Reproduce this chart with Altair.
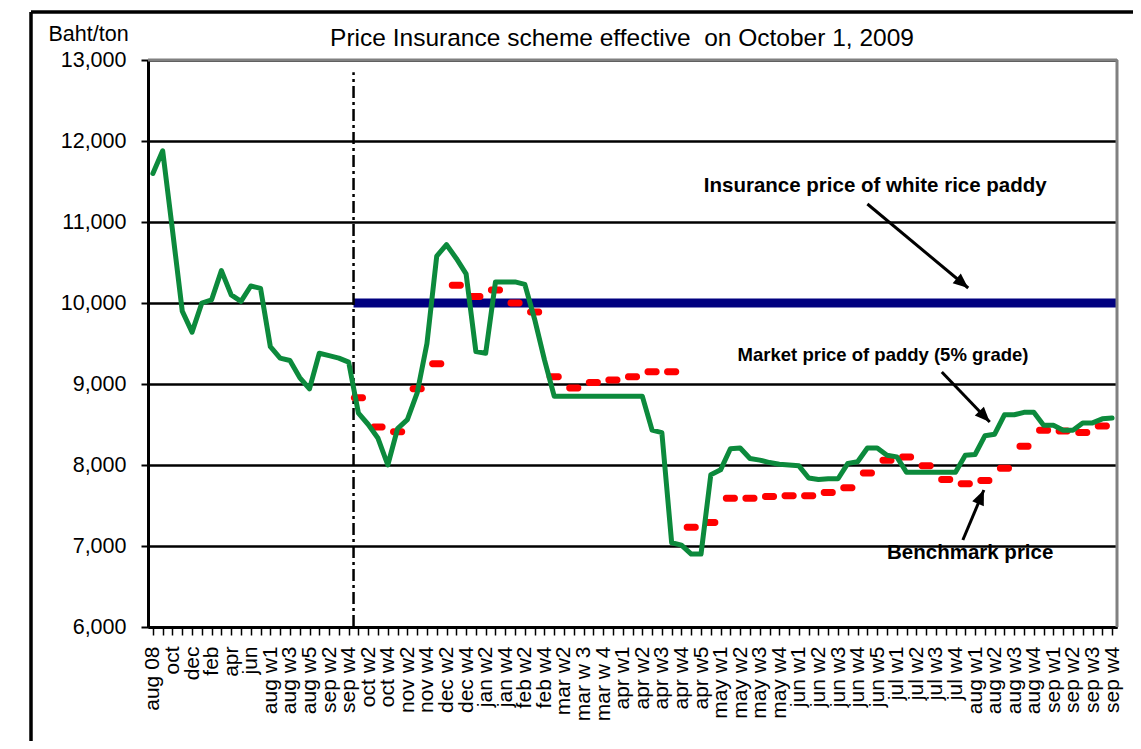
import json
import altair as alt
import pandas as pd

# ---------------- data ----------------
x_labels = [
    "aug 08", "oct", "dec", "feb", "apr", "jun", "aug w1", "aug w3", "aug w5",
    "sep w2", "sep w4", "oct w2", "oct w4", "nov w2", "nov w4", "dec w2", "dec w4",
    "jan w2", "jan w4", "feb w2", "feb w4", "mar w2", "mar w 3", "mar w 4",
    "apr w1", "apr w2", "apr w3", "apr w4", "apr w5", "may w1", "may w2", "may w3",
    "may w4", "jun w1", "jun w2", "jun w3", "jun w4", "jun w5", "jul w1", "jul w2",
    "jul w3", "jul w4", "aug w1", "aug w2", "aug w3", "aug w4", "sep w1", "sep w2",
    "sep w3", "sep w4",
]

market_price = [
    11600, 11880, 10900, 9900, 9640, 10000, 10040, 10400, 10100, 10020,
    10210, 10180, 9460, 9320, 9290, 9080, 8940, 9380, 9350, 9320,
    9270, 8640, 8500, 8330, 8000, 8450, 8560, 8890, 9500, 10580,
    10720, 10550, 10360, 9400, 9380, 10260, 10260, 10260, 10230, 9800,
    9300, 8850, 8850, 8850, 8850, 8850, 8850, 8850, 8850, 8850,
    8850, 8430, 8400, 7040, 7010, 6900, 6900, 7880, 7940, 8200,
    8210, 8080, 8060, 8030, 8010, 8000, 7990, 7840, 7820, 7830,
    7830, 8020, 8040, 8210, 8210, 8120, 8100, 7910, 7910, 7910,
    7910, 7910, 7910, 8120, 8130, 8360, 8380, 8620, 8620, 8650,
    8650, 8490, 8490, 8430, 8430, 8520, 8520, 8570, 8580,
]

benchmark_price = [
    8830, 8470, 8410, 8940, 9250, 10220, 10080, 10160, 10000, 9890,
    9090, 8950, 9020, 9050, 9090, 9150, 9150, 7230, 7290, 7590,
    7590, 7610, 7620, 7620, 7660, 7720, 7900, 8060, 8100, 7990,
    7820, 7770, 7810, 7960, 8230, 8430, 8420, 8400, 8480,
]
benchmark_first_index = 21          # benchmark is shown every second week row

insurance_price = [10000]
scheme_start = [20.5]               # October 1, 2009 divider (between rows)
y_ticks = [6000, 7000, 8000, 9000, 10000, 11000, 12000, 13000]

chart_title = ["Price Insurance scheme effective\u00a0 on October 1, 2009"]

# annotation texts and their anchor points (data units)
note_text = ["Insurance price of white rice paddy",
             "Market price of paddy (5% grade)",
             "Benchmark price"]
note_x = [73.8, 74.6, 83.5]
note_y = [11444, 9358, 6914]
note_size = [20.5, 18.5, 20.5]

arrow_tail_x = [73.0, 80.6, 82.75]
arrow_tail_y = [11222, 9148, 7074]
arrow_tip_x = [83.3, 85.5, 84.9]
arrow_tip_y = [10185, 8531, 7691]
arrow_angle = [130, 136, 23]

# ---------------- tables ----------------
n = len(market_price)
green_df = pd.DataFrame({"i": list(range(n)), "price": market_price})
red_df = pd.DataFrame({
    "i": [benchmark_first_index + 2 * k for k in range(len(benchmark_price))],
    "price": benchmark_price,
})
blue_df = pd.DataFrame({"x": scheme_start, "x2": [n - 0.5], "y": insurance_price})
div_df = pd.DataFrame({"x": scheme_start, "y": [6000], "y2": [12850]})
note_df = pd.DataFrame({"x": note_x, "y": note_y, "t": note_text, "fs": note_size})
arrow_df = pd.DataFrame({"x": arrow_tail_x, "y": arrow_tail_y,
                         "x2": arrow_tip_x, "y2": arrow_tip_y, "a": arrow_angle})
border_df = pd.DataFrame({"x": [-0.5, n - 0.5], "x2": [n - 0.5, n - 0.5],
                          "y": [13000, 6000], "y2": [13000, 13000]})
title_df = pd.DataFrame({"t": chart_title})
one = pd.DataFrame({"k": [0]})

FONT = "Liberation Sans"

xscale = alt.Scale(domain=[-0.5, n - 0.5], nice=False, zero=False)
yscale = alt.Scale(domain=[6000, 13000], nice=False, zero=False)

label_expr = ("datum.value % 2 == 0 ? " + json.dumps(x_labels) +
              "[datum.value / 2] : ''")

x_axis = alt.Axis(
    values=list(range(n)), labelExpr=label_expr, labelAngle=-90,
    labelAlign="right", labelBaseline="middle", labelFont=FONT,
    labelFontSize=21, labelColor="black", labelPadding=11,
    labelOverlap=False, labelFlush=False, labelBound=False,
    tickSize=8, tickColor="black", tickWidth=1.5,
    domainColor="black", domainWidth=3, grid=False, title=None,
)
y_axis = alt.Axis(
    values=y_ticks, format=",.0f", labelFont=FONT, labelFontSize=21.5,
    labelColor="black", labelPadding=15, tickSize=7, tickColor="black",
    tickWidth=2, domainColor="black", domainWidth=3,
    grid=True, gridColor="black", gridWidth=2.5,
    title="Baht/ton", titleAngle=0, titleX=-100, titleY=-26,
    titleAlign="left", titleBaseline="middle", titleFont=FONT,
    titleFontSize=21.5, titleFontWeight="normal", titleColor="black",
)


def X(f):
    return alt.X(f, type="quantitative", scale=xscale, axis=x_axis)


def Y(f):
    return alt.Y(f, type="quantitative", scale=yscale, axis=y_axis)


blue = alt.Chart(blue_df).mark_rule(color="#000080", strokeWidth=9).encode(
    x=X("x"), x2="x2", y=Y("y"))

divider = alt.Chart(div_df).mark_rule(
    color="black", strokeWidth=2.5, strokeDash=[12, 4, 3, 4]
).encode(x=X("x"), y=Y("y"), y2="y2")

red = alt.Chart(red_df).mark_tick(
    color="#ff0000", orient="horizontal", size=15, thickness=7,
    cornerRadius=3, opacity=1
).encode(x=X("i"), y=Y("price"))

green = alt.Chart(green_df).mark_line(
    color="#0c8a3c", strokeWidth=5, strokeJoin="round", strokeCap="round"
).encode(x=X("i"), y=Y("price"))

borders = alt.Chart(border_df).mark_rule(color="#808080", strokeWidth=3).encode(
    x=X("x"), x2="x2", y=Y("y"), y2="y2")

notes = alt.Chart(note_df).mark_text(
    font=FONT, fontWeight="bold", color="black", align="center", baseline="middle"
).encode(x=X("x"), y=Y("y"), text="t:N", size=alt.Size("fs:Q", scale=None))

arrow_lines = alt.Chart(arrow_df).mark_rule(color="black", strokeWidth=3).encode(
    x=X("x"), y=Y("y"), x2="x2", y2="y2")

arrow_heads = alt.Chart(arrow_df).mark_point(
    shape="M0,0 L0.42,1 L-0.42,1 Z", size=900, filled=True, color="black", opacity=1
).encode(x=X("x2"), y=Y("y2"), angle=alt.Angle("a:Q", scale=None))

title_text = alt.Chart(title_df).mark_text(
    font=FONT, fontSize=24.5, color="black", align="center", baseline="middle"
).encode(x=alt.value(474), y=alt.value(-21), text="t:N")

frame_left = alt.Chart(one).mark_rule(color="black", strokeWidth=3.5).encode(
    x=alt.value(-117), y=alt.value(-48), y2=alt.value(690))
frame_top = alt.Chart(one).mark_rule(color="black", strokeWidth=3.5).encode(
    x=alt.value(-117), x2=alt.value(1000), y=alt.value(-48))

chart = alt.layer(
    blue, divider, red, green, borders, notes, arrow_lines, arrow_heads,
    title_text, frame_left, frame_top,
).properties(
    width=969, height=567,
    padding={"left": 140, "top": 52, "right": 16, "bottom": 114},
    autosize=alt.AutoSizeParams(type="none"),
).configure_view(stroke=None).configure(background="white")

chart.save("out.html", embed_options={"renderer": "svg", "actions": False})
